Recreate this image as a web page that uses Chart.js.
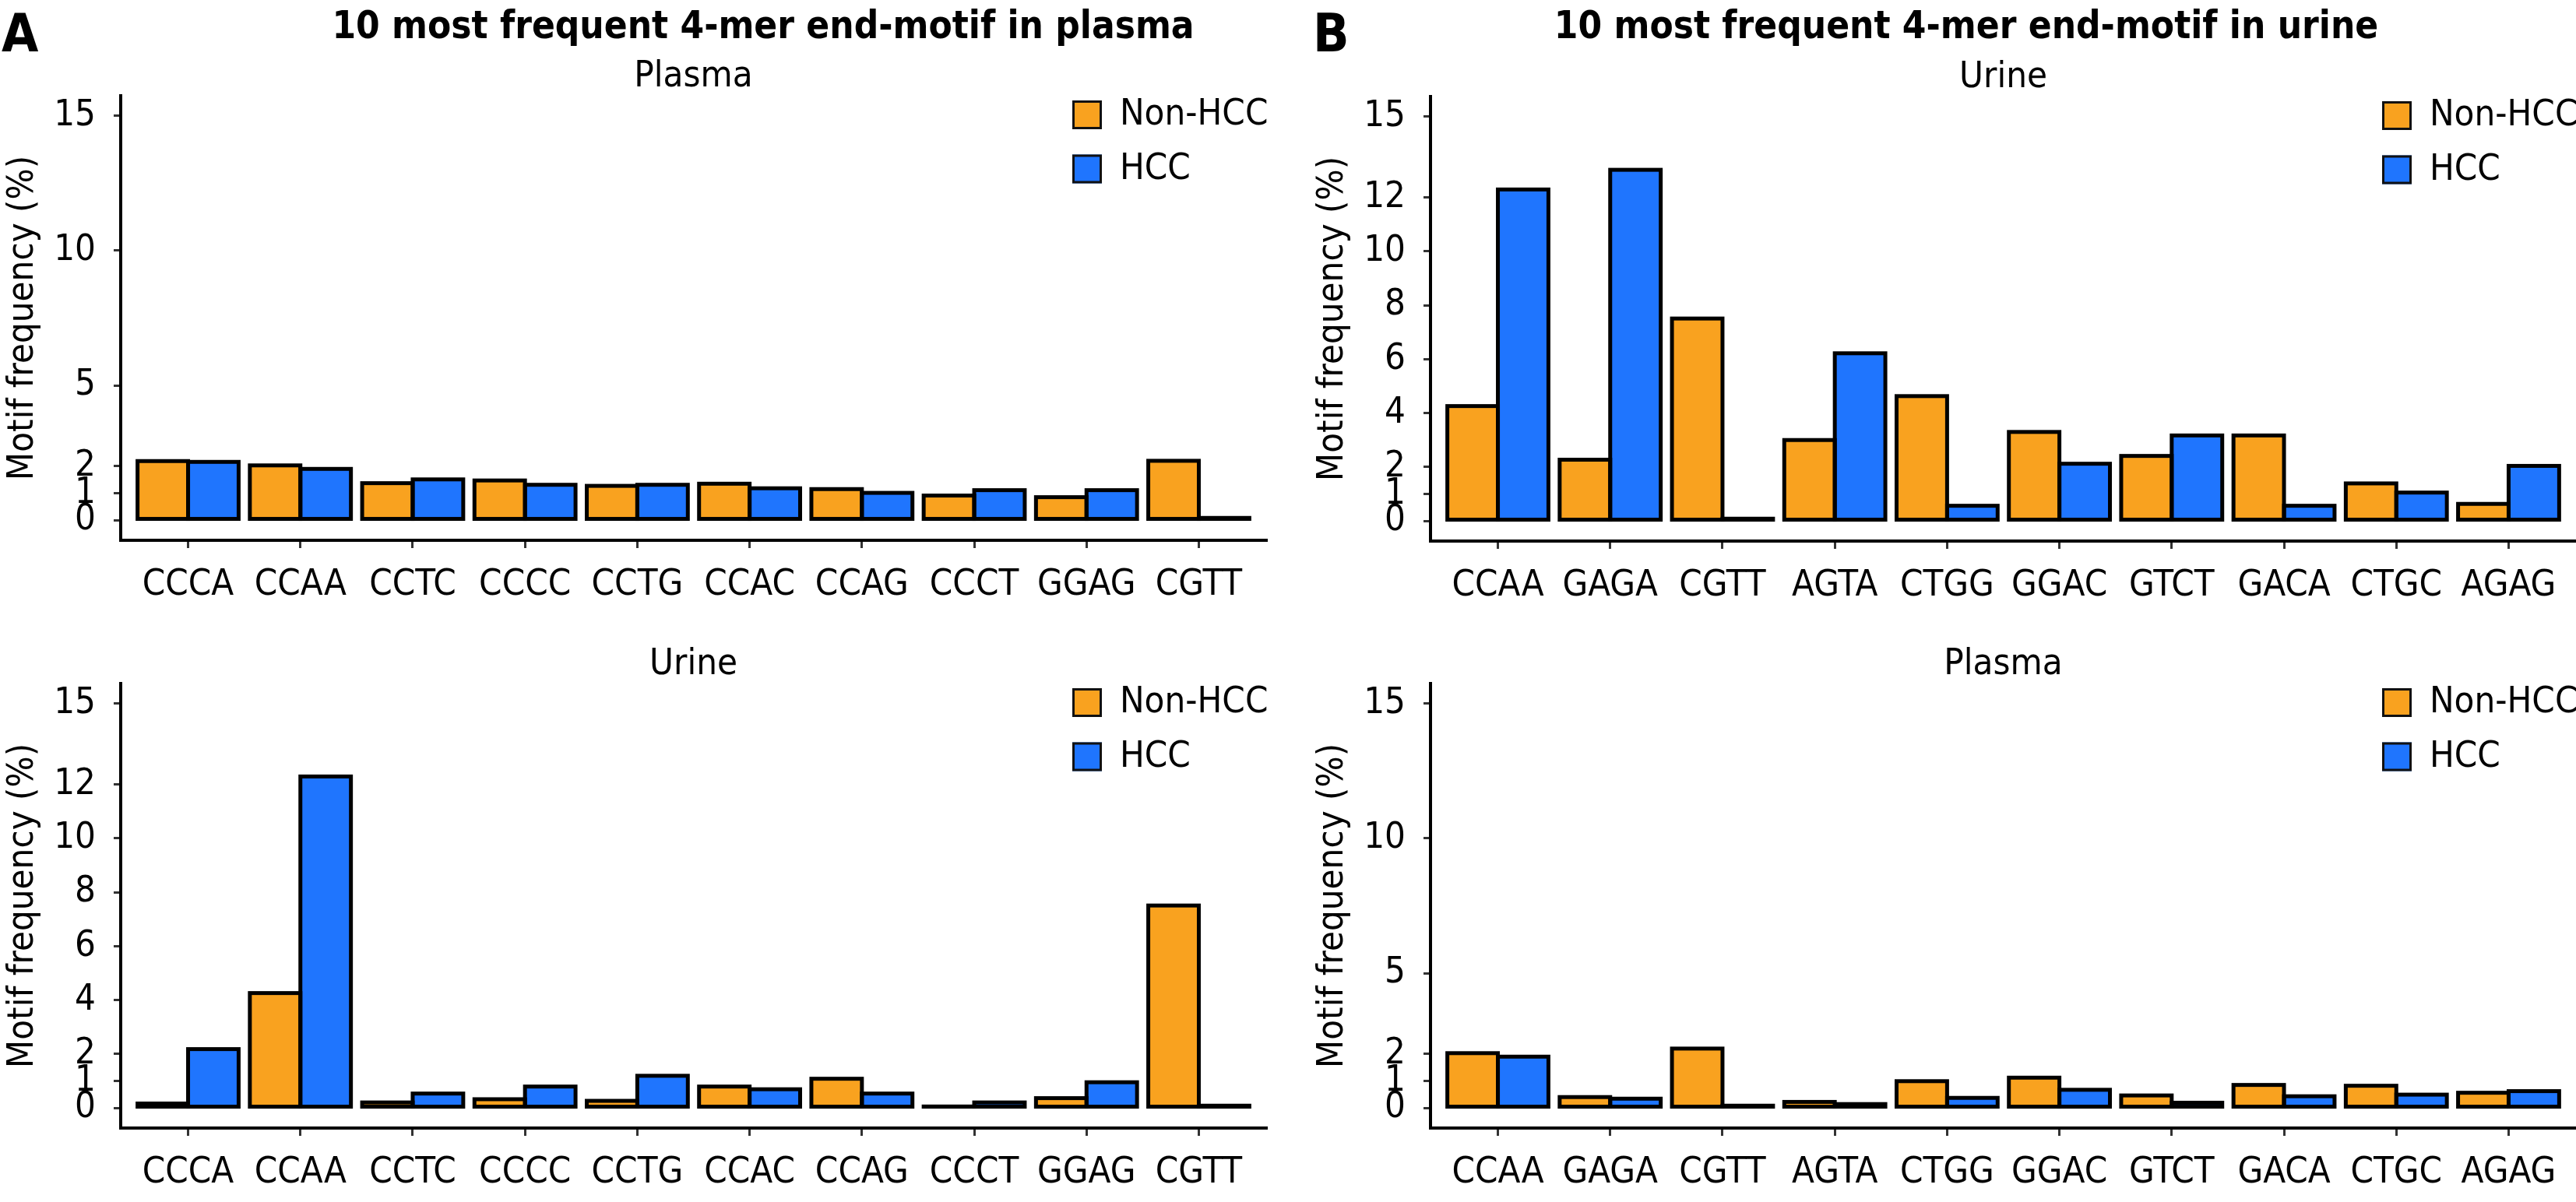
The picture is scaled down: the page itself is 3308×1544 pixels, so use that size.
<!DOCTYPE html>
<html>
<head>
<meta charset="utf-8">
<script src="https://cdn.jsdelivr.net/npm/chart.js@4.4.1/dist/chart.umd.min.js"></script>
<style>
  html, body { margin: 0; padding: 0; background: #fff; }
  body { position: relative; width: 3308px; height: 1544px; overflow: hidden; }
  canvas { position: absolute; }
  .tag, .head {
    position: absolute; white-space: nowrap; line-height: 1; color: #000;
    font-family: 'DejaVu Sans Condensed', 'DejaVu Sans', sans-serif; font-weight: bold;
  }
  .tag { font-size: 68px; }
  .head { font-size: 49px; text-align: center; }
</style>
</head>
<body>
<div class="tag" style="left:2px; top:9px;">A</div>
<div class="tag" style="left:1686px; top:9px;">B</div>
<div class="head" style="left:0px; width:1960px; top:8px;">10 most frequent 4-mer end-motif in plasma</div>
<div class="head" style="left:1725px; width:1600px; top:8px;">10 most frequent 4-mer end-motif in urine</div>

<canvas id="aPlasma" width="1654" height="790" style="left:0px; top:0px;"></canvas>
<canvas id="aUrine" width="1654" height="790" style="left:0px; top:755px;"></canvas>
<canvas id="bUrine" width="1654" height="790" style="left:1682px; top:1px;"></canvas>
<canvas id="bPlasma" width="1654" height="790" style="left:1682px; top:755px;"></canvas>

<script>
// motifs on the x axis
const plasmaMotifs = ["CCCA", "CCAA", "CCTC", "CCCC", "CCTG", "CCAC", "CCAG", "CCCT", "GGAG", "CGTT"];
const urineMotifs = ["CCAA", "GAGA", "CGTT", "AGTA", "CTGG", "GGAC", "GTCT", "GACA", "CTGC", "AGAG"];

// A: plasma top-10 motifs, measured in plasma and in urine (%)
const aPlasmaNonHcc = [2.19, 2.03, 1.37, 1.47, 1.27, 1.35, 1.15, 0.91, 0.85, 2.20];
const aPlasmaHcc    = [2.16, 1.90, 1.51, 1.31, 1.31, 1.18, 1.01, 1.11, 1.11, 0.08];
const aUrineNonHcc  = [0.16, 4.26, 0.20, 0.32, 0.26, 0.79, 1.08, 0.05, 0.36, 7.51];
const aUrineHcc     = [2.18, 12.30, 0.53, 0.79, 1.19, 0.69, 0.53, 0.20, 0.95, 0.08];

// B: urine top-10 motifs, measured in urine and in plasma (%)
const bUrineNonHcc  = [4.26, 2.27, 7.51, 3.00, 4.63, 3.30, 2.41, 3.17, 1.39, 0.63];
const bUrineHcc     = [12.30, 13.03, 0.08, 6.22, 0.56, 2.12, 3.17, 0.56, 1.05, 2.04];
const bPlasmaNonHcc = [2.03, 0.40, 2.20, 0.22, 0.99, 1.12, 0.46, 0.85, 0.82, 0.56];
const bPlasmaHcc    = [1.90, 0.34, 0.08, 0.14, 0.37, 0.67, 0.19, 0.43, 0.49, 0.62];

// y tick sets
const ticksSparse = [0, 1, 2, 5, 10, 15];
const ticksDense = [0, 1, 2, 4, 6, 8, 10, 12, 15];

const ORANGE = "#F9A21F";
const BLUE = "#1F75FE";
const FAMILY = "'DejaVu Sans Condensed', 'DejaVu Sans', sans-serif";
const FONT = { family: FAMILY, size: 47, weight: "normal" };

// ggplot style outline: stroke centred on the bar edges, so even tiny bars show as a black line
const barOutline = {
  id: "barOutline",
  afterDatasetsDraw(chart) {
    const ctx = chart.ctx;
    ctx.save();
    ctx.lineWidth = 5;
    ctx.strokeStyle = "#000";
    chart.data.datasets.forEach((ds, i) => {
      chart.getDatasetMeta(i).data.forEach(bar => {
        const { x, y, base, width } = bar.getProps(["x", "y", "base", "width"], true);
        ctx.strokeRect(x - width / 2, Math.min(y, base), width, Math.abs(base - y));
      });
    });
    ctx.restore();
  }
};

// legend drawn inside the panel, top right
const insideLegend = {
  id: "insideLegend",
  afterDraw(chart) {
    const ctx = chart.ctx;
    const area = chart.chartArea;
    chart.data.datasets.forEach((ds, i) => {
      const x = area.right - 249;
      const y = area.top + 6 + i * 69.5;
      ctx.save();
      ctx.fillStyle = ds.backgroundColor;
      ctx.fillRect(x, y, 38, 37);
      ctx.lineWidth = 3;
      ctx.strokeStyle = "#111";
      ctx.strokeRect(x + 1.5, y + 1.5, 35, 34);
      ctx.fillStyle = "#000";
      ctx.font = "47px " + FAMILY;
      ctx.textBaseline = "middle";
      ctx.textAlign = "left";
      ctx.fillText(ds.label, x + 61, y + 19);
      ctx.restore();
    });
  }
};

function makePanel(id, subtitle, motifs, nonHcc, hcc, yTicks) {
  new Chart(document.getElementById(id), {
    type: "bar",
    data: {
      datasets: [
        { label: "Non-HCC", data: nonHcc.map((v, i) => ({ x: i, y: v })), backgroundColor: ORANGE, borderWidth: 0 },
        { label: "HCC", data: hcc.map((v, i) => ({ x: i, y: v })), backgroundColor: BLUE, borderWidth: 0 }
      ]
    },
    options: {
      responsive: false,
      animation: false,
      events: [],
      layout: { padding: { left: 0, right: 28, top: 0, bottom: 0 } },
      datasets: { bar: { categoryPercentage: 0.9, barPercentage: 1, inflateAmount: 0 } },
      plugins: {
        legend: { display: false },
        tooltip: { enabled: false },
        title: {
          display: true,
          text: subtitle,
          fullSize: false,
          color: "#000",
          font: { family: FAMILY, size: 47, weight: "normal", lineHeight: 1 },
          padding: { top: 75, bottom: 1 }
        }
      },
      scales: {
        x: {
          type: "linear",
          offset: false,
          min: -0.6,
          max: 9.6,
          afterBuildTicks: s => { s.ticks = motifs.map((m, i) => ({ value: i })); },
          afterFit: s => { s.height = 96; },
          ticks: {
            autoSkip: false, maxRotation: 0, minRotation: 0, padding: 20,
            color: "#000", font: FONT,
            callback: v => motifs[v]
          },
          grid: { offset: false, drawOnChartArea: false, drawTicks: true, tickLength: 10, color: "#333", lineWidth: 3 },
          border: { display: true, color: "#000", width: 4 }
        },
        y: {
          min: -0.75,
          max: 15.75,
          afterBuildTicks: s => { s.ticks = yTicks.map(v => ({ value: v })); },
          afterFit: s => { s.width = 155; },
          ticks: { autoSkip: false, padding: 23, color: "#000", font: FONT },
          grid: { drawOnChartArea: false, drawTicks: true, tickLength: 9, color: "#333", lineWidth: 3 },
          border: { display: true, color: "#000", width: 4 },
          title: {
            display: true,
            text: "Motif frequency (%)",
            color: "#000",
            font: FONT,
            padding: { top: 2, bottom: 0 }
          }
        }
      }
    },
    plugins: [barOutline, insideLegend]
  });
}

makePanel("aPlasma", "Plasma", plasmaMotifs, aPlasmaNonHcc, aPlasmaHcc, ticksSparse);
makePanel("aUrine", "Urine", plasmaMotifs, aUrineNonHcc, aUrineHcc, ticksDense);
makePanel("bUrine", "Urine", urineMotifs, bUrineNonHcc, bUrineHcc, ticksDense);
makePanel("bPlasma", "Plasma", urineMotifs, bPlasmaNonHcc, bPlasmaHcc, ticksSparse);
</script>
</body>
</html>
